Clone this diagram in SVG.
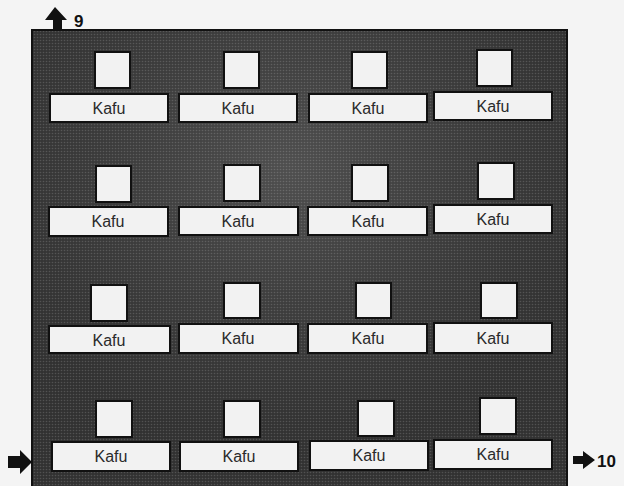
<svg xmlns="http://www.w3.org/2000/svg" width="624" height="486" viewBox="0 0 624 486">
<defs>
<pattern id="dots" width="3" height="3" patternUnits="userSpaceOnUse">
<rect width="3" height="3" fill="#363636"/>
<circle cx="1.5" cy="1.5" r="0.8" fill="#5e5e5e"/>
</pattern>
<radialGradient id="glow" cx="0.48" cy="0.3" r="0.6">
<stop offset="0" stop-color="#8a8a8a" stop-opacity="0.3"/>
<stop offset="1" stop-color="#202020" stop-opacity="0.2"/>
</radialGradient>
<style>
.sq{fill:#f2f2f2;stroke:#111;stroke-width:2}
.lb{fill:#f2f2f2;stroke:#111;stroke-width:2}
.tx{font-family:"Liberation Sans",Arial,sans-serif;font-size:16px;fill:#2a2a2a;text-anchor:middle}
.num{font-family:"Liberation Sans",Arial,sans-serif;font-size:17px;font-weight:bold;fill:#111}
.arr{fill:#111}
</style>
</defs>
<rect width="624" height="486" fill="#f4f4f4"/>
<g id="frame">
<rect x="32" y="30" width="535" height="460" fill="url(#dots)" stroke="#111" stroke-width="2"/>
<rect x="33" y="31" width="533" height="458" fill="url(#glow)"/>
</g>
<g id="connectors">
<polygon class="arr" points="45,20 55,7 67,20 62,20 62,29 53,29 53,20"/>
<polygon class="arr" points="8,456 20,456 20,450 32,462 20,474 20,468 8,468"/>
<polygon class="arr" points="573,456 583,456 583,451 595,460 583,469 583,464 573,464"/>
</g>
<g id="label-9"><text class="num" x="74" y="27">9</text></g>
<g id="label-10"><text class="num" x="597" y="467">10</text></g>
<g id="r1c1"><rect class="sq" x="95" y="52" width="35" height="36"/><rect class="lb" x="50" y="94" width="118" height="28"/><text class="tx" x="109" y="114">Kafu</text></g>
<g id="r1c2"><rect class="sq" x="224" y="52" width="35" height="36"/><rect class="lb" x="179" y="94" width="118" height="28"/><text class="tx" x="238" y="114">Kafu</text></g>
<g id="r1c3"><rect class="sq" x="352" y="52" width="35" height="36"/><rect class="lb" x="309" y="94" width="118" height="28"/><text class="tx" x="368" y="114">Kafu</text></g>
<g id="r1c4"><rect class="sq" x="477" y="50" width="35" height="36"/><rect class="lb" x="434" y="92" width="118" height="28"/><text class="tx" x="493" y="112">Kafu</text></g>
<g id="r2c1"><rect class="sq" x="96" y="166" width="35" height="36"/><rect class="lb" x="49" y="207" width="119" height="29"/><text class="tx" x="108" y="227">Kafu</text></g>
<g id="r2c2"><rect class="sq" x="224" y="165" width="36" height="36"/><rect class="lb" x="179" y="207" width="119" height="28"/><text class="tx" x="238" y="227">Kafu</text></g>
<g id="r2c3"><rect class="sq" x="352" y="165" width="36" height="36"/><rect class="lb" x="308" y="207" width="119" height="28"/><text class="tx" x="368" y="227">Kafu</text></g>
<g id="r2c4"><rect class="sq" x="478" y="163" width="36" height="36"/><rect class="lb" x="434" y="205" width="118" height="28"/><text class="tx" x="493" y="225">Kafu</text></g>
<g id="r3c1"><rect class="sq" x="91" y="285" width="36" height="36"/><rect class="lb" x="49" y="326" width="121" height="27"/><text class="tx" x="109" y="346">Kafu</text></g>
<g id="r3c2"><rect class="sq" x="224" y="283" width="36" height="35"/><rect class="lb" x="179" y="324" width="119" height="29"/><text class="tx" x="238" y="344">Kafu</text></g>
<g id="r3c3"><rect class="sq" x="356" y="283" width="35" height="35"/><rect class="lb" x="308" y="324" width="119" height="29"/><text class="tx" x="368" y="344">Kafu</text></g>
<g id="r3c4"><rect class="sq" x="481" y="283" width="36" height="35"/><rect class="lb" x="434" y="323" width="118" height="30"/><text class="tx" x="493" y="344">Kafu</text></g>
<g id="r4c1"><rect class="sq" x="96" y="401" width="36" height="36"/><rect class="lb" x="52" y="442" width="118" height="29"/><text class="tx" x="111" y="462">Kafu</text></g>
<g id="r4c2"><rect class="sq" x="224" y="401" width="36" height="36"/><rect class="lb" x="180" y="442" width="118" height="29"/><text class="tx" x="239" y="462">Kafu</text></g>
<g id="r4c3"><rect class="sq" x="358" y="401" width="36" height="35"/><rect class="lb" x="310" y="441" width="118" height="29"/><text class="tx" x="369" y="461">Kafu</text></g>
<g id="r4c4"><rect class="sq" x="480" y="398" width="36" height="36"/><rect class="lb" x="434" y="440" width="118" height="29"/><text class="tx" x="493" y="460">Kafu</text></g>
</svg>
